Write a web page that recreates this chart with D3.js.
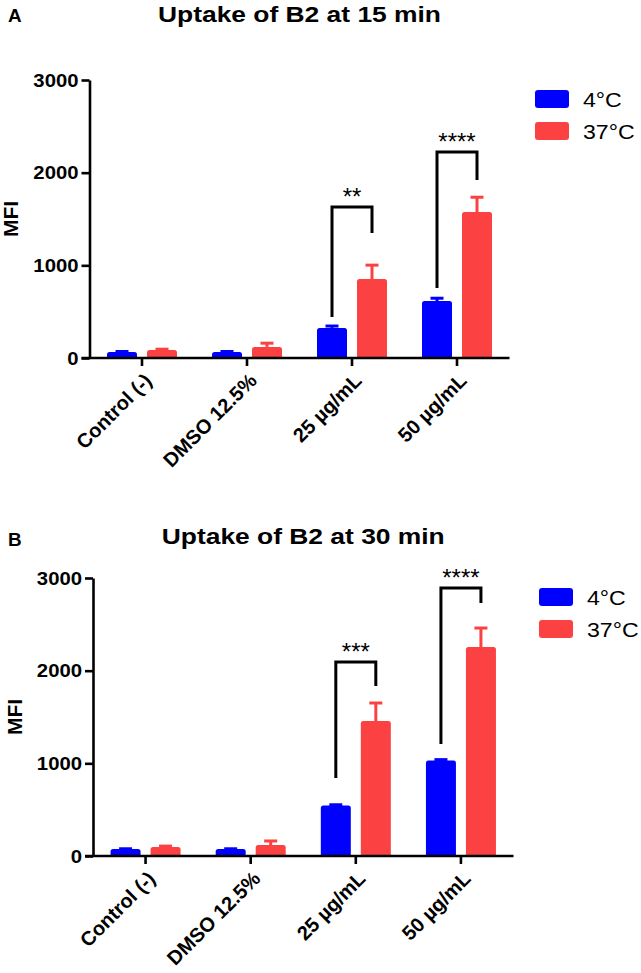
<!DOCTYPE html>
<html><head><meta charset="utf-8">
<script src="https://cdn.jsdelivr.net/npm/d3@7"></script>
<style>
html,body{margin:0;padding:0;background:#fff;}
svg{display:block;}
</style></head>
<body>
<svg id="chart" width="641" height="973"></svg>
<script>
// ---------- data ----------
const categories = ["Control (-)", "DMSO 12.5%", "25 µg/mL", "50 µg/mL"];
const seriesNames = ["4°C", "37°C"];
const yTicks = [0, 1000, 2000, 3000];

// Panel A: 15 min
const a_cold = [65, 65, 325, 615];
const a_coldErr = [5, 5, 20, 30];
const a_warm = [85, 120, 852, 1575];
const a_warmErr = [10, 40, 150, 160];

// Panel B: 30 min
const b_cold = [75, 75, 545, 1030];
const b_coldErr = [3, 3, 8, 10];
const b_warm = [97, 119, 1456, 2255];
const b_warmErr = [10, 43, 195, 205];

// significance brackets (data units)
const sigGroups = ["25 µg/mL", "50 µg/mL"];
const a_sigTop = [1629, 2222], a_sigLeft = [442, 755], a_sigRight = [1348, 1920];
const a_sigLabels = ["**", "****"];
const b_sigTop = [2093, 2891], b_sigLeft = [841, 1208], b_sigRight = [1834, 2729];
const b_sigLabels = ["***", "****"];

const colors = {"4°C": "#0000ff", "37°C": "#fb4141"};
const FONT = "'Liberation Sans', Arial, Helvetica, sans-serif";
const SX = 1.16; // horizontal stretch of the original figure's text

const svg = d3.select("#chart");

function stretchedText(g, x, y, str, size, weight, anchor, sx) {
  return g.append("text")
    .attr("transform", `translate(${x},${y}) scale(${sx},1)`)
    .attr("font-family", FONT).attr("font-size", size)
    .attr("font-weight", weight).attr("text-anchor", anchor)
    .attr("fill", "#000").text(str);
}

function panel(cfg) {
  const g = svg.append("g");
  const y = d3.scaleLinear().domain([0, 3000]).range([cfg.y0, cfg.y1]);
  const x = d3.scaleBand().domain(categories).range([cfg.x0, cfg.x1]).padding(0);
  const sub = d3.scaleBand().domain(seriesNames).range([-35, 35]).paddingInner(0.25);

  const data = [];
  categories.forEach((c, i) => {
    data.push({cat: c, s: seriesNames[0], v: cfg.cold[i], e: cfg.coldErr[i]});
    data.push({cat: c, s: seriesNames[1], v: cfg.warm[i], e: cfg.warmErr[i]});
  });
  const cx = c => x(c) + x.bandwidth() / 2;

  // error bars (upper only)
  data.forEach(d => {
    const xc = cx(d.cat) + sub(d.s) + sub.bandwidth() / 2;
    g.append("line").attr("x1", xc).attr("x2", xc)
      .attr("y1", y(d.v)).attr("y2", y(d.v + d.e))
      .attr("stroke", colors[d.s]).attr("stroke-width", 3);
    g.append("line").attr("x1", xc - 6.5).attr("x2", xc + 6.5)
      .attr("y1", y(d.v + d.e)).attr("y2", y(d.v + d.e))
      .attr("stroke", colors[d.s]).attr("stroke-width", 3);
  });
  // bars
  g.selectAll("rect.bar").data(data).enter().append("rect")
    .attr("class", "bar")
    .attr("x", d => cx(d.cat) + sub(d.s))
    .attr("width", sub.bandwidth())
    .attr("y", d => y(d.v))
    .attr("height", d => y(0) - y(d.v) + 1)
    .attr("rx", 2.5)
    .attr("fill", d => colors[d.s]);

  // y axis
  const ya = g.append("g").attr("transform", `translate(${cfg.x0},0)`)
    .call(d3.axisLeft(y).tickValues(yTicks).tickSize(8).tickSizeOuter(0).tickFormat(d3.format("d")));
  ya.select(".domain").attr("stroke-width", 2.6);
  ya.selectAll(".tick line").attr("stroke-width", 2.6);
  ya.selectAll(".tick text")
    .attr("font-family", FONT).attr("font-size", 17.5).attr("font-weight", "bold")
    .attr("fill", "#000")
    .attr("x", -11 / SX).attr("dy", "0.36em")
    .attr("transform", `scale(${SX},1)`);

  // x axis
  const xa = g.append("g").attr("transform", `translate(0,${cfg.y0})`)
    .call(d3.axisBottom(x).tickSize(8).tickSizeOuter(0));
  xa.select(".domain").attr("stroke-width", 2.6)
    .attr("d", `M${cfg.x0 - 8},0H${cfg.x1}`);
  xa.selectAll(".tick line").attr("stroke-width", 2.6);
  xa.selectAll(".tick text")
    .attr("font-family", FONT).attr("font-size", 20).attr("font-weight", "bold")
    .attr("fill", "#000")
    .attr("text-anchor", "end")
    .attr("y", 0).attr("dy", "0.35em")
    .attr("transform", "translate(6,19) rotate(-45)");

  // significance brackets
  sigGroups.forEach((c, i) => {
    const xl = cx(c) + sub(seriesNames[0]) + sub.bandwidth() / 2;
    const xr = cx(c) + sub(seriesNames[1]) + sub.bandwidth() / 2;
    g.append("path")
      .attr("d", `M${xl},${y(cfg.sigLeft[i])}V${y(cfg.sigTop[i])}H${xr}V${y(cfg.sigRight[i])}`)
      .attr("fill", "none").attr("stroke", "#000").attr("stroke-width", 3);
    g.append("text")
      .attr("x", (xl + xr) / 2).attr("y", y(cfg.sigTop[i]) - 2)
      .attr("font-family", FONT).attr("font-size", 24)
      .attr("text-anchor", "middle").attr("fill", "#000")
      .text(cfg.sigLabels[i]);
  });

  // y axis title
  g.append("text")
    .attr("transform", `translate(${cfg.yLabX},${(cfg.y0 + cfg.y1) / 2}) rotate(-90)`)
    .attr("font-family", FONT).attr("font-size", 21).attr("font-weight", "bold")
    .attr("text-anchor", "middle").attr("fill", "#000").text("MFI");

  // title & panel letter
  stretchedText(g, (cfg.x0 + cfg.x1) / 2, cfg.titleY, cfg.title, 22, "bold", "middle", 1.2);
  stretchedText(g, 8, cfg.letterY, cfg.letter, 18, "bold", "start", 1.05);

  // legend
  seriesNames.forEach((s, i) => {
    g.append("rect").attr("x", cfg.legX).attr("y", cfg.legY + i * 32)
      .attr("width", 34).attr("height", 18).attr("rx", 3)
      .attr("fill", colors[s]);
    stretchedText(g, cfg.legX + 48, cfg.legY + i * 32 + 16.5, s, 21, "normal", "start", 1.1);
  });
}

panel({
  x0: 89.5, x1: 509.5, y0: 358, y1: 80,
  cold: a_cold, coldErr: a_coldErr, warm: a_warm, warmErr: a_warmErr,
  sigTop: a_sigTop, sigLeft: a_sigLeft, sigRight: a_sigRight, sigLabels: a_sigLabels,
  title: "Uptake of B2 at 15 min", titleY: 22, letter: "A", letterY: 22,
  yLabX: 18, legX: 535, legY: 90
});
panel({
  x0: 93, x1: 513.5, y0: 856, y1: 578,
  cold: b_cold, coldErr: b_coldErr, warm: b_warm, warmErr: b_warmErr,
  sigTop: b_sigTop, sigLeft: b_sigLeft, sigRight: b_sigRight, sigLabels: b_sigLabels,
  title: "Uptake of B2 at 30 min", titleY: 544, letter: "B", letterY: 546,
  yLabX: 22, legX: 539, legY: 588
});
</script>
</body></html>
